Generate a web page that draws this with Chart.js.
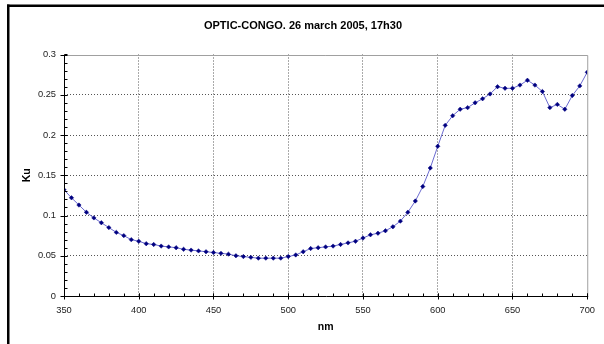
<!DOCTYPE html>
<html>
<head>
<meta charset="utf-8">
<script src="https://cdn.jsdelivr.net/npm/chart.js@4.4.1/dist/chart.umd.min.js"></script>
<style>
    html, body { margin: 0; padding: 0; background: #fff; }
    #wrap { width: 604px; height: 344px; position: relative; }
</style>
</head>
<body>
<div id="wrap"><canvas id="kuChart"></canvas></div>
<script>
// Ku spectrum, OPTIC-CONGO 26 march 2005 17h30

const chartTitle = 'OPTIC-CONGO. 26 march 2005, 17h30';

const wavelengths = [
    350, 355, 360, 365, 370, 375, 380, 385, 390, 395,
    400, 405, 410, 415, 420, 425, 430, 435, 440, 445,
    450, 455, 460, 465, 470, 475, 480, 485, 490, 495,
    500, 505, 510, 515, 520, 525, 530, 535, 540, 545,
    550, 555, 560, 565, 570, 575, 580, 585, 590, 595,
    600, 605, 610, 615, 620, 625, 630, 635, 640, 645,
    650, 655, 660, 665, 670, 675, 680, 685, 690, 695,
    700
];

const kuValues = [
    0.132, 0.122, 0.113, 0.104, 0.097, 0.091, 0.085, 0.079, 0.075, 0.070,
    0.068, 0.065, 0.064, 0.062, 0.061, 0.060, 0.058, 0.057, 0.056, 0.055,
    0.054, 0.053, 0.052, 0.050, 0.049, 0.048, 0.047, 0.047, 0.047, 0.047,
    0.049, 0.051, 0.055, 0.059, 0.060, 0.061, 0.062, 0.064, 0.066, 0.068,
    0.072, 0.076, 0.078, 0.081, 0.086, 0.093, 0.104, 0.118, 0.136, 0.159,
    0.186, 0.212, 0.224, 0.232, 0.234, 0.240, 0.245, 0.251, 0.260, 0.258,
    0.258, 0.262, 0.268, 0.262, 0.254, 0.234, 0.238, 0.232, 0.249, 0.261,
    0.278
];

const xTicks = [350, 400, 450, 500, 550, 600, 650, 700];
const yTicks = [0, 0.05, 0.1, 0.15, 0.2, 0.25, 0.3];

const xMinorStep = 10;
const yMinorStep = 0.01;

const fontFamily = 'Arial, "Liberation Sans", sans-serif';

function gridColor(ctx, lo, hi) {
    const v = ctx.tick ? ctx.tick.value : null;
    if (v === lo || v === hi) return 'rgba(0,0,0,0)';
    return '#555';
}

// Excel style frame, axes, tick marks and title
const excelFrame = {
    id: 'excelFrame',
    afterDraw(chart) {
        const ctx = chart.ctx;
        const area = chart.chartArea;
        const xs = chart.scales.x;
        const ys = chart.scales.y;

        ctx.save();

        // outer chart border (only left and top visible)
        ctx.fillStyle = '#000';
        ctx.fillRect(7, 4.5, 604, 2.5);
        ctx.fillRect(7, 4.5, 2.5, 344);

        // plot area top / right border
        ctx.strokeStyle = '#a0a0a0';
        ctx.lineWidth = 1;
        ctx.beginPath();
        ctx.moveTo(area.left, Math.round(area.top) + 0.5);
        ctx.lineTo(area.right + 0.5, Math.round(area.top) + 0.5);
        ctx.lineTo(area.right + 0.5, area.bottom);
        ctx.stroke();

        // axes
        const ax = Math.round(area.left) + 0.5;
        const ay = Math.round(area.bottom) + 0.5;
        ctx.strokeStyle = '#000';
        ctx.beginPath();
        ctx.moveTo(ax, area.top);
        ctx.lineTo(ax, ay);
        ctx.lineTo(area.right + 1, ay);
        ctx.stroke();

        ctx.beginPath();
        // y minor ticks (inside)
        for (let v = 0; v <= 0.3001; v += yMinorStep) {
            const py = Math.round(ys.getPixelForValue(v)) + 0.5;
            ctx.moveTo(ax, py);
            ctx.lineTo(ax + 3, py);
        }
        // y major ticks (cross)
        yTicks.forEach(v => {
            const py = Math.round(ys.getPixelForValue(v)) + 0.5;
            ctx.moveTo(ax - 4, py);
            ctx.lineTo(ax + 3, py);
        });
        // x minor ticks (inside)
        for (let v = 350; v <= 700; v += xMinorStep) {
            const px = Math.round(xs.getPixelForValue(v)) + 0.5;
            ctx.moveTo(px, ay);
            ctx.lineTo(px, ay - 3);
        }
        // x major ticks (cross)
        xTicks.forEach(v => {
            const px = Math.round(xs.getPixelForValue(v)) + 0.5;
            ctx.moveTo(px, ay + 3);
            ctx.lineTo(px, ay - 3);
        });
        ctx.stroke();

        // title
        ctx.fillStyle = '#000';
        ctx.font = 'bold 11px ' + fontFamily;
        ctx.textAlign = 'center';
        ctx.textBaseline = 'alphabetic';
        ctx.fillText(chartTitle, 303, 28.5);

        ctx.restore();
    }
};

const points = wavelengths.map((w, i) => ({ x: w, y: kuValues[i] }));

new Chart(document.getElementById('kuChart'), {
    type: 'line',
    data: {
        datasets: [{
            label: 'Ku',
            data: points,
            borderColor: '#6b6bd0',
            borderWidth: 1,
            backgroundColor: '#000080',
            pointBackgroundColor: '#000080',
            pointBorderColor: '#000080',
            pointStyle: 'rectRot',
            pointRadius: 2.2,
            pointBorderWidth: 0.5,
            tension: 0,
            fill: false
        }]
    },
    options: {
        responsive: true,
        maintainAspectRatio: false,
        animation: false,
        devicePixelRatio: 1,
        layout: { padding: { left: 0, right: 14, top: 54.5, bottom: 0 } },
        plugins: {
            legend: { display: false },
            tooltip: { enabled: false },
            title: { display: false }
        },
        scales: {
            x: {
                type: 'linear',
                min: 350,
                max: 700,
                afterBuildTicks: scale => { scale.ticks = xTicks.map(v => ({ value: v })); },
                afterFit: scale => { scale.height = 48; },
                grid: {
                    drawTicks: false,
                    lineWidth: 1,
                    color: ctx => gridColor(ctx, 350, 700)
                },
                border: { display: false, dash: [1, 2] },
                ticks: {
                    color: '#222',
                    font: { family: fontFamily, size: 9.3 },
                    padding: 9,
                    maxRotation: 0,
                    autoSkip: false
                },
                title: {
                    display: true,
                    text: 'nm',
                    color: '#000',
                    font: { family: fontFamily, size: 10.5, weight: 'bold' },
                    padding: { top: 0, bottom: 11 }
                }
            },
            y: {
                min: 0,
                max: 0.3,
                afterBuildTicks: scale => { scale.ticks = yTicks.map(v => ({ value: v })); },
                afterFit: scale => { scale.width = 64; },
                grid: {
                    drawTicks: false,
                    lineWidth: 1,
                    color: ctx => gridColor(ctx, 0, 0.3)
                },
                border: { display: false, dash: [1, 2] },
                ticks: {
                    color: '#222',
                    font: { family: fontFamily, size: 9.3 },
                    padding: 8,
                    callback: v => String(+v.toFixed(2))
                },
                title: {
                    display: true,
                    text: 'Ku',
                    color: '#000',
                    font: { family: fontFamily, size: 10.5, weight: 'bold' },
                    padding: { top: 21, bottom: 0 }
                }
            }
        }
    },
    plugins: [excelFrame]
});
</script>
</body>
</html>
